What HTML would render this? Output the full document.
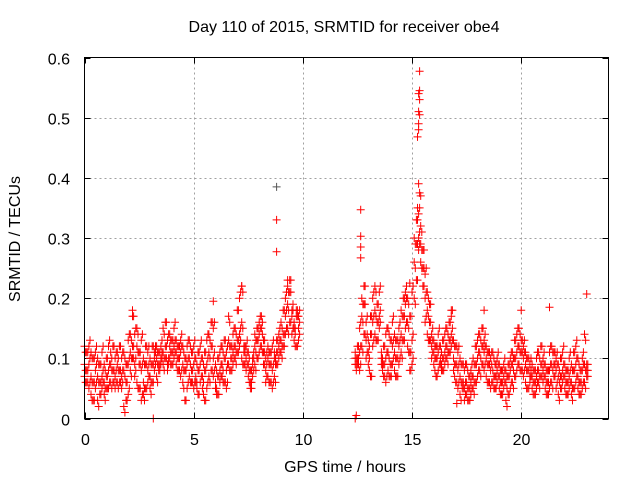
<!DOCTYPE html>
<html><head><meta charset="utf-8"><style>
html,body{margin:0;padding:0;background:#fff;}
svg{display:block;font-family:"Liberation Sans",sans-serif;}
</style></head><body>
<svg id="chart" width="640" height="480" viewBox="0 0 640 480">
<rect width="640" height="480" fill="#fff"/>
<text x="344" y="32" font-size="16" text-anchor="middle" fill="#000">Day 110 of 2015, SRMTID for receiver obe4</text>
<text x="20" y="239" font-size="16" text-anchor="middle" transform="rotate(-90 20 239)" fill="#000">SRMTID / TECUs</text>
<text x="345" y="472" font-size="16" text-anchor="middle" fill="#000">GPS time / hours</text>
<g id="grid"></g>
<g id="ticks"></g>
<g id="marks"></g>
<rect x="84.5" y="57.5" width="524" height="361" fill="none" stroke="#000" stroke-width="1"/>
</svg>
<script>
const xTicks=[0,5,10,15,20];
const yTicks=[0,0.1,0.2,0.3,0.4,0.5,0.6];
const yTickLabels=["0","0.1","0.2","0.3","0.4","0.5","0.6"];
const times=[0.0,0.1,0.2,0.3,0.4,0.5,0.6,0.7,0.8,0.9,1.0,1.1,1.2,1.3,1.4,1.5,1.6,1.7,1.8,1.9,2.0,2.1,2.2,2.3,2.4,2.5,2.6,2.7,2.8,2.9,3.0,3.1,3.2,3.3,3.4,3.5,3.6,3.7,3.8,3.9,4.0,4.1,4.2,4.3,4.4,4.5,4.6,4.7,4.8,4.9,5.0,5.1,5.2,5.3,5.4,5.5,5.6,5.7,5.8,5.9,6.0,6.1,6.2,6.3,6.4,6.5,6.6,6.7,6.8,6.9,7.0,7.1,7.2,7.3,7.4,7.5,7.6,7.7,7.8,7.9,8.0,8.1,8.2,8.3,8.4,8.5,8.6,8.7,8.8,8.9,9.0,9.1,9.2,9.3,9.4,9.5,9.6,9.7,9.8,
12.4,12.5,12.6,12.7,12.8,12.9,13.0,13.1,13.2,13.3,13.4,13.5,13.6,13.7,13.8,13.9,14.0,14.1,14.2,14.3,14.4,14.5,14.6,14.7,14.8,14.9,15.0,15.1,15.2,15.3,15.4,15.5,15.6,15.7,15.8,15.9,16.0,16.1,16.2,16.3,16.4,16.5,16.6,16.7,16.8,16.9,17.0,17.1,17.2,17.3,17.4,17.5,17.6,17.7,17.8,17.9,18.0,18.1,18.2,18.3,18.4,18.5,18.6,18.7,18.8,18.9,19.0,19.1,19.2,19.3,19.4,19.5,19.6,19.7,19.8,19.9,20.0,20.1,20.2,20.3,20.4,20.5,20.6,20.7,20.8,20.9,21.0,21.1,21.2,21.3,21.4,21.5,21.6,21.7,21.8,21.9,22.0,22.1,22.2,22.3,22.4,22.5,22.6,22.7,22.8,22.9,23.0];
// values in hundredths of TECU
const valsLow=[9,6,5,4,6,5,3,4,5,6,7,5,6,8,7,9,6,5,2,3,4,8,10,7,6,5,3,4,5,6,7,9,8,7,8,10,11,12,9,10,11,10,9,8,7,6,8,5,7,6,5,7,4,6,5,3,5,7,8,10,6,7,8,9,6,5,9,10,11,12,13,14,10,9,8,7,6,7,9,10,11,12,9,8,7,6,5,7,9,10,11,12,14,15,16,14,13,12,13,
10,9,8,12,14,10,9,7,12,14,13,15,9,7,6,8,7,9,8,7,9,11,13,15,12,8,9,20,23,28,26,22,16,14,13,10,9,7,8,9,8,9,10,11,12,8,6,5,4,5,3,4,3,4,5,6,7,8,9,8,7,6,5,6,5,6,5,4,5,3,4,5,6,7,8,9,8,7,6,5,6,5,4,5,6,7,6,5,4,5,6,7,5,4,5,6,5,4,5,4,5,6,5,4,5,6,7];
const valsMid=[12,11,9,7,10,8,7,6,11,9,10,12,9,12,10,11,8,10,8,6,9,14,17,14,12,9,8,6,9,8,10,12,11,10,9,12,15,16,13,12,9,15,13,12,11,9,10,9,10,8,9,10,8,9,7,8,9,11,12,15,9,10,11,12,10,8,13,12,14,15,18,20,16,12,10,9,8,10,12,13,14,15,11,10,10,9,8,10,11,12,13,14,17,19,21,18,16,17,15,
11,12,11,17,19,13,11,14,16,18,16,17,10,9,10,11,9,12,11,10,12,14,17,19,16,11,13,26,29,30,29,25,20,18,16,12,11,10,11,12,10,11,12,13,14,10,9,8,7,6,5,6,5,6,7,9,10,11,12,11,10,9,8,8,7,8,7,6,7,6,7,8,9,10,11,12,11,10,9,8,9,7,6,7,8,9,8,7,6,8,9,9,8,7,7,8,7,6,7,6,8,9,7,6,8,9,8];
const valsHigh=[7,8,12,11,3,11,10,9,7,4,5,8,11,6,5,6,12,7,11,9,13,11,12,9,15,11,13,10,12,11,5,6,10,12,11,9,9,10,8,14,13,12,11,10,13,12,3,12,13,11,12,6,11,12,10,11,13,14,16,7,5,4,6,7,13,11,17,8,9,10,11,12,22,11,12,11,5,9,14,15,16,17,13,6,12,11,12,11,13,14,16,18,20,22,23,17,15,18,17,
9,10,15,20,22,16,13,17,20,22,19,21,11,12,14,15,13,16,14,13,15,18,20,21,20,17,21,30,33,34,32,28,24,21,19,14,13,12,14,10,13,14,15,16,17,13,12,11,10,9,8,9,7,8,10,12,13,14,15,13,12,11,10,11,9,10,9,8,9,8,9,10,11,13,14,15,13,12,11,10,7,9,8,10,11,12,10,9,8,11,12,11,10,9,10,11,9,8,10,9,11,12,10,8,10,14,9];
const outT=[8.8,8.8,8.8,3.15,12.4,12.45,12.65,12.65,12.65,12.65,15.35,15.35,15.3,15.35,15.3,15.35,15.3,15.3,15.25,15.3,15.35,15.25,15.4,2.2,5.9,20.0,21.3,23.0,17.05,18.3,7.2,9.3,14.9,16.8];
const outV=[0.385,0.33,0.277,0,0,0.005,0.347,0.303,0.285,0.267,0.577,0.545,0.54,0.53,0.51,0.505,0.49,0.48,0.468,0.39,0.375,0.35,0.37,0.18,0.195,0.18,0.185,0.207,0.025,0.18,0.22,0.23,0.225,0.18];

const X0=84.5,X1=608.5,Y0=418.5,Y1=57.5,XMAX=24,YMAX=0.6;
const sx=v=>X0+(v/XMAX)*(X1-X0);
const sy=v=>Y0-(v/YMAX)*(Y0-Y1);
const NS="http://www.w3.org/2000/svg";
const grid=document.getElementById('grid'),ticks=document.getElementById('ticks'),marks=document.getElementById('marks');
function mk(tag,attrs,parent){const e=document.createElementNS(NS,tag);for(const k in attrs)e.setAttribute(k,attrs[k]);parent.appendChild(e);return e;}
xTicks.forEach(t=>{
  const x=Math.round(sx(t))+0.5;
  if(t>0){const g=mk('line',{x1:x,x2:x,y1:Y1,y2:Y0,stroke:'#a0a0a0','stroke-dasharray':'2,3'},grid);
  
  }
  mk('line',{x1:x,x2:x,y1:Y0,y2:Y0-6,stroke:'#000'},ticks);
  mk('line',{x1:x,x2:x,y1:Y1,y2:Y1+6,stroke:'#000'},ticks);
  const l=mk('text',{x:x,y:445,'font-size':16,'text-anchor':'middle',fill:'#000'},ticks);
  l.textContent=String(t);
  
  
});
yTicks.forEach((t,i)=>{
  const y=Math.round(sy(t))+0.5;
  if(t>0&&t<0.6){const g=mk('line',{x1:X0,x2:X1,y1:y,y2:y,stroke:'#a0a0a0','stroke-dasharray':'2,3'},grid);
  
  }
  mk('line',{x1:X0,x2:X0+6,y1:y,y2:y,stroke:'#000'},ticks);
  mk('line',{x1:X1,x2:X1-6,y1:y,y2:y,stroke:'#000'},ticks);
  const l=mk('text',{x:70,y:y+6,'font-size':16,'text-anchor':'end',fill:'#000'},ticks);
  l.textContent=yTickLabels[i];
  
  
});
function plus(t,v,col){
  const x=sx(t),y=sy(v);
  const p=mk('path',{d:`M${(x-4).toFixed(1)} ${y.toFixed(1)}h8M${x.toFixed(1)} ${(y-4).toFixed(1)}v8`,stroke:col,'stroke-width':1,fill:'none'},marks);
  
  
}
[valsLow,valsMid,valsHigh].forEach(arr=>{
  times.forEach((t,i)=>{plus(t,arr[i]/100,'#ff0000');plus(t+0.05,(arr[i]+(i%3)-1)/100,'#ff0000');});
});
outT.forEach((t,i)=>plus(t,outV[i],i===0?'#555':'#ff0000'));
</script>
</body></html>
